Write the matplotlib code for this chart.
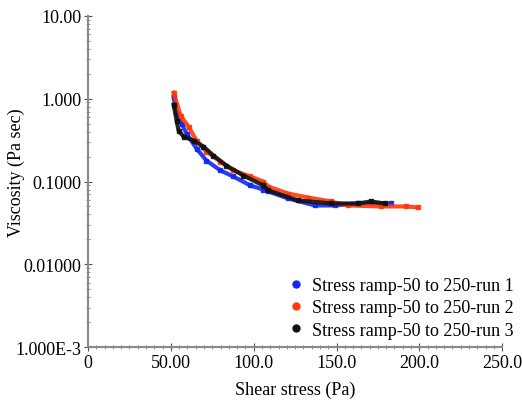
import matplotlib.pyplot as plt
import numpy as np
from matplotlib.lines import Line2D
from matplotlib.ticker import FixedLocator, MultipleLocator, LogLocator, NullFormatter

plt.rcParams['font.family'] = ['Liberation Serif', 'DejaVu Serif']

# Run 1 (blue)
stress_1 = [51.7, 53.5, 56.5, 59.5, 65.5, 71.5, 79.9, 87.7, 98.0, 105.8, 108.8,
            120.8, 137.0, 149.0, 162.9, 182.7]
visc_1 = [1.06, 0.66, 0.50, 0.379, 0.25, 0.179, 0.136, 0.115, 0.0895, 0.080, 0.0758,
          0.0624, 0.0514, 0.0514, 0.0543, 0.0543]

# Run 2 (red)
stress_2 = [51.7, 55.9, 60.7, 65.5, 71.5, 79.9, 87.7, 98.0, 105.8, 108.8, 120.8,
            132.8, 146.6, 156.9, 176.7, 191.7, 199.0]
visc_2 = [1.18, 0.624, 0.46, 0.312, 0.23, 0.174, 0.136, 0.115, 0.100, 0.087, 0.0716,
          0.0641, 0.0574, 0.0514, 0.050, 0.050, 0.0487]

# Run 3 (black)
stress_3 = [51.7, 53.5, 54.7, 57.7, 63.7, 69.7, 75.7, 83.5, 93.8, 105.8, 108.8,
            126.8, 146.6, 162.9, 170.7, 179.1]
visc_3 = [0.847, 0.543, 0.411, 0.348, 0.312, 0.264, 0.206, 0.156, 0.118, 0.0895, 0.078,
          0.059, 0.0543, 0.0543, 0.0574, 0.0543]

labels = ["Stress ramp-50 to 250-run 1", "Stress ramp-50 to 250-run 2",
          "Stress ramp-50 to 250-run 3"]
colors = ["#1428f0", "#ff3a0a", "#111111"]

x_ticks = [0, 50, 100, 150, 200, 250]
x_tick_labels = ["0", "50.00", "100.0", "150.0", "200.0", "250.0"]
y_ticks = [1e-3, 1e-2, 1e-1, 1, 10]
y_tick_labels = ["1.000E-3", "0.01000", "0.1000", "1.000", "10.00"]

fig = plt.figure(figsize=(5.22, 4.02), dpi=100)
ax = fig.add_axes([0.1686, 0.134, 0.7934, 0.824])

series = [(stress_1, visc_1), (stress_2, visc_2), (stress_3, visc_3)]
for (s, v), c in zip(series, colors):
    ax.plot(s, v, color=c, lw=3.0, marker="s", ms=3, mec=c, mfc=c, alpha=0.9)

ax.set_yscale("log")
ax.set_xlim(0, 250)
ax.set_ylim(1e-3, 10)

ax.xaxis.set_major_locator(FixedLocator(x_ticks))
ax.set_xticklabels(x_tick_labels)
ax.xaxis.set_minor_locator(MultipleLocator(5))
ax.yaxis.set_major_locator(FixedLocator(y_ticks))
ax.set_yticklabels(y_tick_labels)
ax.yaxis.set_minor_locator(LogLocator(base=10, subs=np.arange(2, 10), numticks=20))
ax.yaxis.set_minor_formatter(NullFormatter())

for side in ["top", "right"]:
    ax.spines[side].set_visible(False)
for side in ["left", "bottom"]:
    ax.spines[side].set_color("#8a8a8a")
    ax.spines[side].set_linewidth(1.5)

ax.tick_params(which="major", direction="inout", length=6, color="#555555",
               labelsize=13, pad=2)
ax.tick_params(which="minor", direction="inout", length=3, color="#777777")

ax.set_xlabel("Shear stress (Pa)", fontsize=13)
ax.set_ylabel("Viscosity (Pa sec)", fontsize=13)
ax.xaxis.set_label_coords(0.5, -0.1)
ax.yaxis.set_label_coords(-0.153, 0.53)

handles = [Line2D([], [], ls="none", marker="o", ms=5, color=c) for c in colors]
fig.legend(handles, labels, loc="lower right", bbox_to_anchor=(1.005, 0.128),
           frameon=False, fontsize=13, handlelength=0.8, handletextpad=0.5,
           labelspacing=0.3, borderaxespad=0.2)

fig.savefig("out.png", dpi=100)
